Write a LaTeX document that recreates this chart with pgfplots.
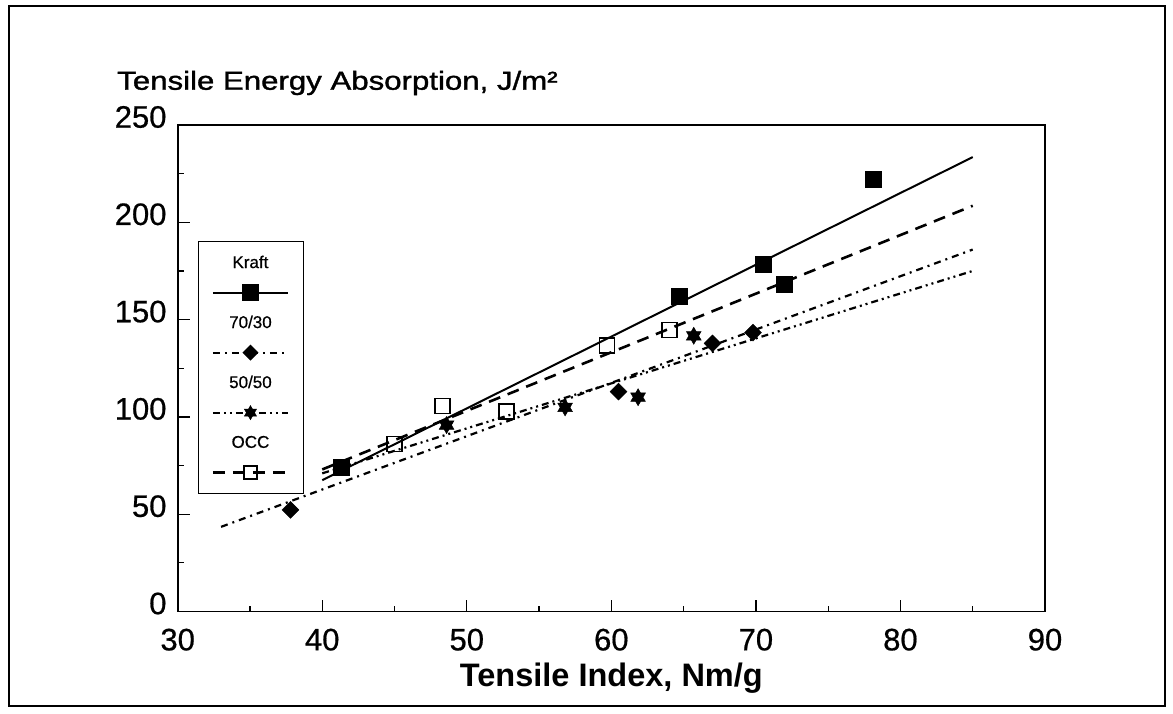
\documentclass[border=0pt]{standalone}
\usepackage{pgfplots}
\pgfplotsset{compat=1.18}
\usepackage{fontspec}
\setmainfont{Liberation Sans}

\pgfdeclareplotmark{hexstar}{%
  \pgfpathmoveto{\pgfqpoint{0pt}{\pgfplotmarksize}}%
  \pgfpathlineto{\pgfqpointpolar{210}{\pgfplotmarksize}}%
  \pgfpathlineto{\pgfqpointpolar{330}{\pgfplotmarksize}}%
  \pgfpathclose
  \pgfpathmoveto{\pgfqpoint{0pt}{-\pgfplotmarksize}}%
  \pgfpathlineto{\pgfqpointpolar{30}{\pgfplotmarksize}}%
  \pgfpathlineto{\pgfqpointpolar{150}{\pgfplotmarksize}}%
  \pgfpathclose
  \pgfusepathqfillstroke
}

\tikzset{
  krline/.style={black, line width=2pt, solid},
  occline/.style={black, line width=2.6pt, dash pattern=on 12pt off 8pt},
  sevline/.style={black, line width=2.2pt, dash pattern=on 7pt off 5pt on 2pt off 5pt},
  fifline/.style={black, line width=2.2pt, dash pattern=on 7pt off 4pt on 2pt off 4pt on 2pt off 4pt},
  legfont/.style={font=\fontsize{17}{20}\selectfont\addfontfeature{FakeBold=0.6}, draw=none, inner sep=0pt},
}

\pgfplotsset{
  legKraft/.style={legend image code/.code={
      \path[draw=none, fill=none] (0pt,-15pt) rectangle (75pt,45pt);
      \node[legfont] at (37.5pt,30pt) {Kraft};
      \draw[krline] (0pt,0pt) -- (75pt,0pt);
      \draw[mark repeat=2,mark phase=2,##1] plot coordinates {(0pt,0pt) (37.5pt,0pt) (75pt,0pt)};
  }},
  legSev/.style={legend image code/.code={
      \path[draw=none, fill=none] (0pt,-15pt) rectangle (75pt,45pt);
      \node[legfont] at (37.5pt,30pt) {70/30};
      \draw[sevline] (0pt,0pt) -- (75pt,0pt);
      \draw[mark repeat=2,mark phase=2,##1] plot coordinates {(0pt,0pt) (37.5pt,0pt) (75pt,0pt)};
  }},
  legFif/.style={legend image code/.code={
      \path[draw=none, fill=none] (0pt,-15pt) rectangle (75pt,45pt);
      \node[legfont] at (37.5pt,30pt) {50/50};
      \draw[fifline] (0pt,0pt) -- (75pt,0pt);
      \draw[mark repeat=2,mark phase=2,##1] plot coordinates {(0pt,0pt) (37.5pt,0pt) (75pt,0pt)};
  }},
  legOcc/.style={legend image code/.code={
      \path[draw=none, fill=none] (0pt,-15pt) rectangle (75pt,45pt);
      \node[legfont] at (37.5pt,30pt) {OCC};
      \draw[occline] (0pt,0pt) -- (75pt,0pt);
      \draw[mark repeat=2,mark phase=2,##1] plot coordinates {(0pt,0pt) (37.5pt,0pt) (75pt,0pt)};
  }},
}

\begin{document}
\begin{tikzpicture}[x=1pt,y=1pt]
\path[use as bounding box] (0,0) rectangle (1173,713);
\draw[line width=2.5pt] (9,7) rectangle (1165,707);
\node[anchor=west, inner sep=0pt, xscale=1.2, font=\fontsize{26}{30}\selectfont\addfontfeature{FakeBold=1.2}] at (117,630) {Tensile Energy Absorption, J/m²};

\begin{axis}[
  at={(177.7pt,101.5pt)}, anchor=south west,
  scale only axis, width=867.3pt, height=486.5pt,
  xmin=30, xmax=90, ymin=0, ymax=250,
  xtick={30,40,...,90}, ytick={0,50,...,250},
  minor x tick num=1, minor y tick num=1,
  tick align=inside, xtick pos=bottom, ytick pos=left,
  major tick length=12pt, minor tick length=6pt,
  tick style={black, line width=1.2pt},
  axis line style={line width=1.8pt},
  ticklabel style={font=\fontsize{31}{36}\selectfont\addfontfeature{FakeBold=0.6}},
  /pgf/number format/assume math mode=true,
  yticklabel style={inner xsep=0pt, inner ysep=0pt, xshift=-11pt, yshift=8pt},
  xticklabel style={inner ysep=0pt, yshift=-17pt},
  xlabel={Tensile Index, Nm/g},
  every axis x label/.style={at={(axis description cs:0.5,0)}, anchor=center, yshift=-67pt, font=\bfseries\fontsize{32.5}{38}\selectfont},
  legend style={at={(axis description cs:0.0234,0.7616)}, anchor=north west,
    draw=black, line width=1.3pt, inner xsep=13pt, inner ysep=6pt,
    row sep=0pt, column sep=0pt, nodes={inner sep=0pt, draw=none}},
]

% legend entries
\addlegendimage{legKraft, black, only marks, mark=square*, mark size=8pt, mark options={solid, fill=black}}
\addlegendentry{}
\addlegendimage{legSev, black, only marks, mark=square*, mark size=5pt, mark options={solid, fill=black, rotate=45}}
\addlegendentry{}
\addlegendimage{legFif, black, only marks, mark=hexstar, mark size=7pt, mark options={solid, fill=black, line width=0.5pt}}
\addlegendentry{}
\addlegendimage{legOcc, black, only marks, mark=square, mark size=6.5pt, mark options={solid, line width=1.5pt, fill=white}}
\addlegendentry{}

% regression lines
\addplot[krline, forget plot] coordinates {(40,67.5) (85,233.5)};
\addplot[occline, forget plot] coordinates {(40,73) (85,208.5)};
\addplot[sevline, forget plot] coordinates {(33,43.5) (85,186)};
\addplot[fifline, forget plot] coordinates {(40,71) (85,175)};

% Kraft
\addplot[forget plot, only marks, mark=square*, mark size=8pt, mark options={fill=black, draw=black}]
  coordinates {(41.3,74.4) (64.7,161.8) (70.5,178.6) (71.95,168.3) (78.1,222.1)};
% OCC
\addplot[forget plot, only marks, mark=square, mark size=7.5pt, mark options={draw=black, fill=white, line width=1.8pt}]
  coordinates {(45.0,86.1) (48.3,105.6) (52.75,102.7) (59.7,136.6) (64.0,144.7)};
% 70/30
\addplot[forget plot, only marks, mark=square*, mark size=6pt, mark options={fill=black, draw=black, rotate=45}]
  coordinates {(37.8,52.2) (60.5,113.0) (67.0,137.8) (69.8,143.3)};
% 50/50
\addplot[forget plot, only marks, mark=hexstar, mark size=8.5pt, mark options={fill=black, draw=black, line width=0.5pt}]
  coordinates {(48.6,95.8) (56.8,104.9) (61.85,110.1) (65.7,141.7)};
\end{axis}
\end{tikzpicture}
\end{document}
